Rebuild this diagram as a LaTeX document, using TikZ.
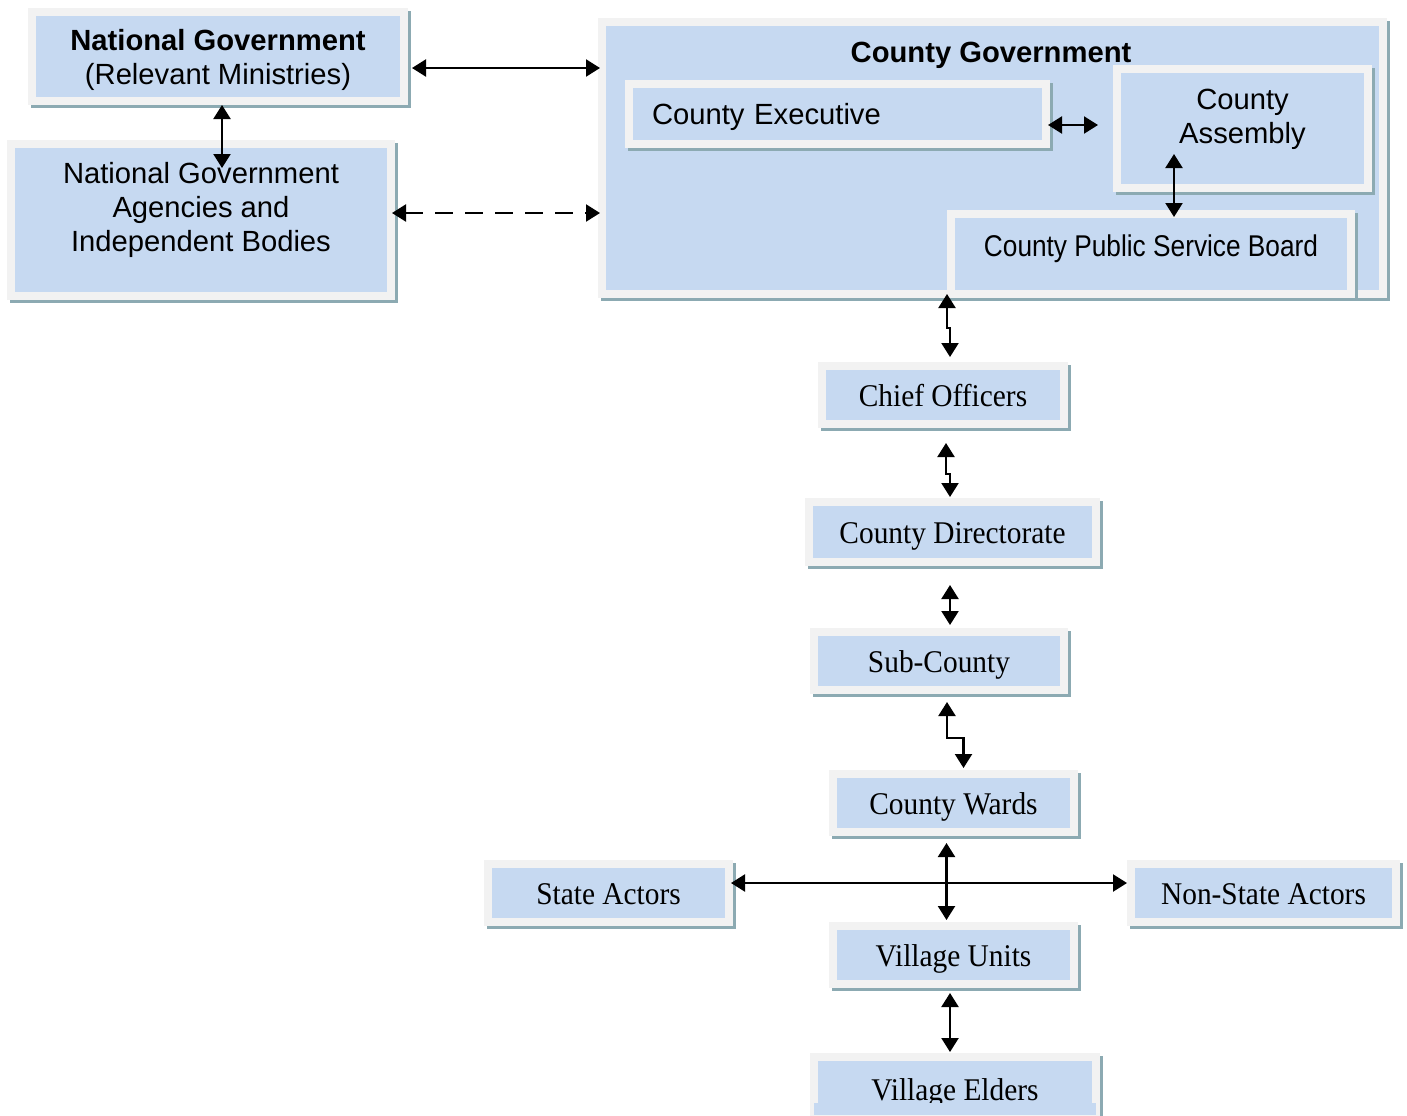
\documentclass[tikz,border=0pt]{standalone}
\usepackage{fontspec}
\setmainfont{Liberation Serif}
\newfontfamily\armsans{Liberation Sans}
\newfontfamily\armnarrow[FakeStretch=0.875]{Liberation Sans}
\newfontfamily\armserif[FakeStretch=0.93]{Liberation Serif}
\usetikzlibrary{arrows.meta,calc,shadows}

\definecolor{boxblue}{HTML}{C6D9F1}
\definecolor{boxrim}{HTML}{F2F2F2}
\definecolor{boxshade}{RGB}{140,170,178}

\tikzset{
  orgbox/.style={draw=boxrim, fill=boxblue, line width=4pt, inner sep=0pt,
    general shadow={draw=boxshade, fill=boxshade, line width=4pt,
      shadow xshift=1.5pt, shadow yshift=-1.5pt}},
  topbox/.style={orgbox, align=center, font=\armsans\fontsize{14.6}{17}\selectfont},
  lowbox/.style={orgbox, minimum height=29pt, text height=11.5pt, text depth=0pt,
    font=\armserif\fontsize{15.8}{18}\selectfont},
  link/.style={line width=1.1pt, shorten <=-2pt, shorten >=-2pt,
    {Triangle[length=7pt,width=8.5pt]}-{Triangle[length=7pt,width=8.5pt]}},
  dashed link/.style={dash pattern=on 9pt off 6pt}
}

\begin{document}
\begin{tikzpicture}[x=0.5pt,y=-0.5pt]
\useasboundingbox (0,0) rectangle (1407,1115);

\node[topbox, minimum width=186pt, minimum height=44.5pt, text depth=-6pt] (natgov) at (218,56.5)
  {\textbf{National Government}\\(Relevant Ministries)};
\node[topbox, minimum width=190pt, minimum height=76pt, text depth=13.5pt] (agency) at (201,220)
  {National Government\\Agencies and\\Independent Bodies};

\node[orgbox, minimum width=390.5pt, minimum height=136pt] (countygov) at (992.5,158) {};
\node[font=\armsans\bfseries\fontsize{14.6}{17}\selectfont] (cgtitle) at (991,55) {County Government};
\node[topbox, align=left, minimum width=208.5pt, minimum height=30pt, inner xsep=11.5pt,
  text width=185.5pt, text height=10pt, text depth=0pt] (exec) at (837.5,114) {County Executive};
\node[topbox, minimum width=125.5pt, minimum height=59.5pt, text depth=12pt] (assembly) at (1242.5,128.5)
  {County\\Assembly};
\node[orgbox, minimum width=200pt, minimum height=40pt, text height=10pt, text depth=8pt,
  font=\armnarrow\fontsize{15}{17}\selectfont] (cpsb) at (1151,254) {County Public Service Board};

\node[lowbox, minimum width=121pt] (chief) at (943,395) {Chief Officers};
\node[lowbox, minimum width=143.5pt, minimum height=30pt] (directorate) at (952.5,532) {County Directorate};
\node[lowbox, minimum width=125pt] (subcounty) at (939,661) {Sub-County};
\node[lowbox, minimum width=120.5pt] (wards) at (953.5,803) {County Wards};
\node[lowbox, minimum width=120.5pt] (stateact) at (608.5,893) {State Actors};
\node[lowbox, minimum width=132.5pt] (nonstate) at (1263.5,893) {Non-State Actors};
\node[lowbox, minimum width=120.5pt] (units) at (953.5,955) {Village Units};
\node[lowbox, minimum width=141pt, minimum height=29pt, text height=14pt] (elders) at (955,1086) {Village Elders};
\fill[boxblue] ($(elders.south west)+(4,-16)$) rectangle ($(elders.south east)+(-4,-4)$);

\draw[link] ($(natgov.east)+(8,11.5)$) -- ($(countygov.west)+(-2,-90)$);
\draw[link] ($(natgov.south)+(4,4)$) -- ($(agency.north)+(21,24)$);
\draw[link, dashed link] ($(agency.east)+(1,-7)$) -- ($(countygov.west)+(-2,55)$);
\draw[link] ($(exec.east)+(2,11)$) -- ($(assembly.west)+(-19,-3.5)$);
\draw[link] ($(assembly.south)+(-68.5,-34)$) -- ($(cpsb.north)+(23,3)$);
\draw[link] ($(countygov.south)+(-45.5,0)$) -- ++(0,30) -| ($(chief.north)+(7,-9)$);
\draw[link] ($(chief.south)+(3,19)$) -- ++(0,27) -| ($(directorate.north)+(-2.5,-5)$);
\draw[link] ($(directorate.south)+(-2.5,23)$) -- ($(subcounty.north)+(11,-7)$);
\draw[link] ($(subcounty.south)+(8,12)$) -- ++(0,32) -| ($(wards.north)+(10,-6)$);
\draw[link] ($(wards.south)+(-7,11)$) -- ($(units.north)+(-7,-6)$);
\draw[link] ($(stateact.east)+(2,-10)$) -- ($(nonstate.west)+(-4,-10)$);
\draw[link] ($(units.south)+(-3.5,9)$) -- ($(elders.north)+(-5,-5)$);
\end{tikzpicture}
\end{document}
